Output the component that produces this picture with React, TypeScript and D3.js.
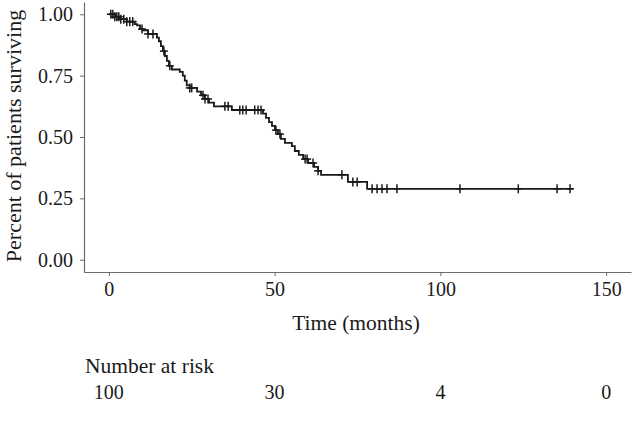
import { useEffect, useRef } from 'react';
import * as d3 from 'd3';

// step function: time (months) of each drop and survival after it
const stepTimes = [0, 1.8, 3.3, 5.4, 7.8, 8.5, 9.4, 10.2, 11.8, 14.5, 15.1, 15.7, 16.3, 16.9, 17.5, 18.1, 19.0, 21.4, 22.3, 22.9, 23.5, 24.4, 26.6, 27.8, 29.0, 30.2, 31.7, 37.1, 46.5, 47.4, 48.3, 49.2, 50.1, 51.0, 51.9, 53.1, 55.2, 56.1, 57.3, 58.6, 60.1, 61.9, 63.1, 64.0, 72.1, 77.9];
const stepSurvival = [1.0, 0.99, 0.98, 0.97, 0.96, 0.955, 0.94, 0.935, 0.92, 0.905, 0.89, 0.87, 0.85, 0.83, 0.81, 0.79, 0.775, 0.765, 0.75, 0.73, 0.71, 0.70, 0.685, 0.67, 0.655, 0.64, 0.625, 0.61, 0.595, 0.578, 0.561, 0.545, 0.528, 0.512, 0.492, 0.476, 0.463, 0.443, 0.427, 0.41, 0.394, 0.378, 0.362, 0.346, 0.317, 0.289];
const endTime = 140;

// censored observations (months)
const censorTimes = [0.6, 1.2, 1.8, 2.4, 3.0, 3.6, 4.5, 5.4, 6.3, 7.2, 10.0, 11.8, 13.3, 16.6, 18.4, 24.4, 25.0, 28.4, 29.0, 29.9, 35.0, 36.0, 39.5, 40.4, 41.4, 44.0, 45.0, 45.9, 50.4, 51.6, 59.2, 59.8, 61.6, 63.1, 70.3, 73.6, 74.9, 79.4, 80.9, 82.4, 83.9, 86.9, 105.9, 123.5, 135.2, 139.1];

const yTicks = [0, 0.25, 0.5, 0.75, 1];
const xTicks = [0, 50, 100, 150];
const riskTimes = [0, 50, 100, 150];
const riskCounts = [100, 30, 4, 0];

const width = 632;
const height = 421;
const font = '"Liberation Serif", "DejaVu Serif", serif';

const App = () => {
  const xAxisRef = useRef(null);
  const yAxisRef = useRef(null);

  const x = d3.scaleLinear().domain([-7.5, 157.5]).range([84, 631]);
  const y = d3.scaleLinear().domain([-0.05, 1.05]).range([272, 2]);

  const pts = stepTimes.map((t, i) => [t, stepSurvival[i]]);
  pts.push([endTime, stepSurvival[stepSurvival.length - 1]]);
  const line = d3.line().x(d => x(d[0])).y(d => y(d[1])).curve(d3.curveStepAfter);

  const survAt = t => stepSurvival[d3.bisectRight(stepTimes, t) - 1];

  useEffect(() => {
    const gx = d3.select(xAxisRef.current);
    gx.selectAll('*').remove();
    gx.call(d3.axisBottom(x).tickValues(xTicks).tickSize(4).tickSizeOuter(0).tickPadding(6));
    gx.selectAll('.domain').attr('stroke', '#6b6b6b').attr('stroke-width', 1.2);
    gx.selectAll('.tick line').attr('stroke', '#6b6b6b');
    gx.selectAll('.tick text').attr('fill', '#1a1a1a').attr('font-size', 20).attr('font-family', font);

    const gy = d3.select(yAxisRef.current);
    gy.selectAll('*').remove();
    gy.call(d3.axisLeft(y).tickValues(yTicks).tickFormat(d3.format('.2f')).tickSize(4).tickSizeOuter(0).tickPadding(7));
    gy.selectAll('.domain').attr('stroke', '#6b6b6b').attr('stroke-width', 1.2);
    gy.selectAll('.tick line').attr('stroke', '#6b6b6b');
    gy.selectAll('.tick text').attr('fill', '#1a1a1a').attr('font-size', 20).attr('font-family', font);
  }, []);

  return (
    <svg width={width} height={height} viewBox={`0 0 ${width} ${height}`}
      style={{ position: 'absolute', left: 0, top: 0, background: '#fff' }}>
      <path d={line(pts)} fill="none" stroke="#1a1a1a" strokeWidth={1.8} />
      {censorTimes.map((t, i) => {
        const cx = x(t);
        const cy = y(survAt(t));
        return (
          <g key={i} stroke="#1a1a1a" strokeWidth={1.5}>
            <line x1={cx - 4} x2={cx + 4} y1={cy} y2={cy} />
            <line x1={cx} x2={cx} y1={cy - 4.5} y2={cy + 4.5} />
          </g>
        );
      })}
      <g ref={xAxisRef} transform="translate(0,272)" />
      <g ref={yAxisRef} transform="translate(84,0)" />
      <text x={356} y={330} textAnchor="middle" fontFamily={font} fontSize={21.5} fill="#1a1a1a">Time (months)</text>
      <text transform="translate(21,136) rotate(-90)" textAnchor="middle" fontFamily={font} fontSize={22} fill="#1a1a1a">Percent of patients surviving</text>
      <text x={85} y={373} fontFamily={font} fontSize={21.5} fill="#1a1a1a">Number at risk</text>
      {riskTimes.map((t, i) => (
        <text key={t} x={x(t)} y={399} textAnchor="middle" fontFamily={font} fontSize={20} fill="#1a1a1a">{riskCounts[i]}</text>
      ))}
    </svg>
  );
};

export default App;
